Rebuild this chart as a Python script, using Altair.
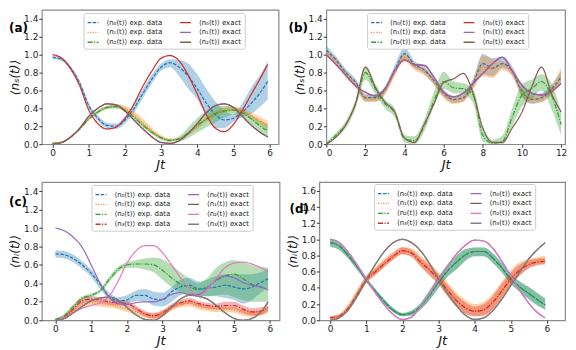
import altair as alt
import pandas as pd

FONT = "DejaVu Sans"
BLUE, ORANGE, GREEN, RED = "#1f77b4", "#ff7f0e", "#2ca02c", "#d62728"
PURPLE, BROWN, PINK, GRAY = "#9467bd", "#8c564b", "#e377c2", "#7f7f7f"
DASHED, DOTTED, DASHDOT, SOLID = [3.5, 1.5], [1, 1.6], [5, 1.5, 1.2, 1.5], [1, 0]

# ---------------- time grids ----------------
T6 = [0.0, 0.25, 0.5, 0.75, 1.0, 1.25, 1.5, 1.75, 2.0, 2.25, 2.5, 2.75, 3.0,
      3.25, 3.5, 3.75, 4.0, 4.25, 4.5, 4.75, 5.0, 5.25, 5.5, 5.75, 5.95]
T12 = [0.0, 0.5, 1.0, 1.5, 2.0, 2.5, 3.0, 3.5, 4.0, 4.5, 5.0, 5.5, 6.0,
       6.5, 7.0, 7.5, 8.0, 8.5, 9.0, 9.5, 10.0, 10.5, 11.0, 11.5, 12.0]

# ---------------- panel (a) ----------------
a_exp0 = [0.97,0.95,0.85,0.68,0.43,0.29,0.21,0.20,0.27,0.40,0.57,0.73,0.86,0.91,0.86,0.76,0.62,0.46,0.33,0.27,0.29,0.36,0.46,0.58,0.70]
a_lo0 = [0.95,0.93,0.83,0.65,0.40,0.26,0.18,0.17,0.23,0.35,0.52,0.68,0.82,0.86,0.76,0.62,0.50,0.32,0.18,0.18,0.25,0.30,0.34,0.42,0.50]
a_hi0 = [0.99,0.97,0.87,0.71,0.46,0.32,0.24,0.23,0.31,0.45,0.62,0.78,0.90,0.95,0.94,0.90,0.78,0.62,0.48,0.38,0.33,0.46,0.64,0.78,0.93]
a_exp1 = [0.01,0.02,0.08,0.17,0.28,0.36,0.41,0.43,0.40,0.33,0.24,0.15,0.08,0.05,0.06,0.12,0.20,0.28,0.34,0.38,0.39,0.37,0.32,0.26,0.21]
a_lo1 = [0.00,0.01,0.07,0.16,0.27,0.35,0.40,0.41,0.37,0.30,0.21,0.13,0.06,0.04,0.05,0.10,0.17,0.25,0.31,0.35,0.37,0.34,0.28,0.21,0.16]
a_hi1 = [0.02,0.03,0.09,0.18,0.29,0.37,0.42,0.45,0.43,0.37,0.28,0.18,0.10,0.06,0.07,0.14,0.23,0.31,0.37,0.41,0.42,0.40,0.35,0.30,0.26]
a_exp2 = [0.01,0.02,0.08,0.17,0.28,0.36,0.41,0.42,0.38,0.30,0.21,0.13,0.07,0.04,0.06,0.13,0.21,0.28,0.34,0.37,0.38,0.35,0.28,0.20,0.15]
a_lo2 = [0.00,0.01,0.07,0.16,0.27,0.34,0.39,0.40,0.36,0.28,0.19,0.11,0.05,0.03,0.03,0.07,0.13,0.19,0.24,0.30,0.33,0.31,0.22,0.13,0.08]
a_hi2 = [0.02,0.03,0.09,0.18,0.29,0.38,0.43,0.44,0.40,0.32,0.23,0.15,0.09,0.06,0.09,0.19,0.29,0.37,0.42,0.43,0.42,0.38,0.32,0.26,0.22]
a_ex0 = [1.00,0.96,0.84,0.65,0.38,0.23,0.17,0.19,0.29,0.45,0.65,0.82,0.96,0.99,0.93,0.77,0.56,0.33,0.18,0.14,0.22,0.38,0.56,0.74,0.89]
a_ex1 = [0.00,0.02,0.08,0.18,0.31,0.40,0.45,0.44,0.37,0.27,0.17,0.08,0.02,0.01,0.04,0.12,0.23,0.35,0.43,0.45,0.41,0.31,0.21,0.13,0.08]
a_ex2 = [0.00,0.02,0.08,0.18,0.31,0.40,0.45,0.44,0.37,0.27,0.17,0.08,0.02,0.01,0.04,0.12,0.23,0.35,0.43,0.45,0.41,0.31,0.21,0.13,0.08]

# ---------------- panel (b) ----------------
b_exp0 = [1.05,0.94,0.80,0.69,0.52,0.52,0.61,0.83,1.01,0.89,0.83,0.71,0.57,0.50,0.52,0.68,0.90,0.85,0.90,0.82,0.59,0.50,0.52,0.61,0.75]
b_lo0 = [1.01,0.90,0.76,0.65,0.48,0.48,0.57,0.78,0.95,0.85,0.79,0.67,0.53,0.46,0.48,0.63,0.78,0.76,0.85,0.77,0.53,0.45,0.47,0.56,0.70]
b_hi0 = [1.10,0.98,0.84,0.73,0.56,0.56,0.65,0.88,1.08,0.93,0.87,0.75,0.61,0.54,0.56,0.73,1.01,0.96,0.98,0.87,0.66,0.56,0.57,0.66,0.82]
b_exp1 = [1.02,0.92,0.78,0.67,0.51,0.51,0.59,0.80,0.97,0.87,0.81,0.70,0.55,0.49,0.51,0.66,0.86,0.84,0.88,0.80,0.58,0.50,0.51,0.60,0.74]
b_lo1 = [0.98,0.88,0.74,0.63,0.47,0.47,0.55,0.76,0.92,0.83,0.77,0.66,0.51,0.45,0.47,0.61,0.76,0.74,0.83,0.76,0.53,0.46,0.47,0.55,0.68]
b_hi1 = [1.06,0.96,0.82,0.71,0.55,0.55,0.63,0.84,1.03,0.91,0.85,0.74,0.59,0.53,0.55,0.71,0.99,0.95,0.93,0.84,0.63,0.54,0.55,0.65,0.86]
b_exp2 = [0.00,0.10,0.22,0.45,0.80,0.62,0.45,0.35,0.06,0.04,0.20,0.48,0.70,0.63,0.62,0.55,0.10,0.01,0.03,0.30,0.55,0.62,0.70,0.55,0.22]
b_lo2 = [0.00,0.07,0.18,0.40,0.72,0.56,0.40,0.30,0.02,0.00,0.14,0.42,0.62,0.57,0.56,0.46,0.03,0.00,0.00,0.20,0.42,0.50,0.60,0.40,0.10]
b_hi2 = [0.02,0.13,0.26,0.50,0.87,0.68,0.50,0.40,0.10,0.09,0.27,0.58,0.81,0.70,0.68,0.62,0.20,0.05,0.10,0.40,0.67,0.72,0.78,0.68,0.36]
b_ex0 = [1.00,0.89,0.77,0.65,0.58,0.54,0.62,0.82,0.94,0.89,0.88,0.75,0.58,0.53,0.57,0.68,0.79,0.90,0.97,0.82,0.66,0.57,0.55,0.59,0.68]
b_ex1 = [1.00,0.89,0.77,0.65,0.58,0.54,0.62,0.82,0.94,0.89,0.88,0.75,0.58,0.53,0.57,0.68,0.79,0.90,0.97,0.82,0.66,0.57,0.55,0.59,0.68]
b_ex2 = [0.00,0.08,0.22,0.46,0.86,0.64,0.47,0.36,0.07,0.02,0.22,0.45,0.69,0.73,0.79,0.57,0.18,0.02,0.02,0.18,0.36,0.64,0.86,0.57,0.36]

# ---------------- panel (c) ----------------
c_exp0 = [0.72,0.71,0.67,0.60,0.51,0.39,0.26,0.21,0.22,0.27,0.27,0.23,0.22,0.31,0.36,0.38,0.34,0.35,0.36,0.38,0.36,0.34,0.36,0.41,0.45]
c_lo0 = [0.68,0.67,0.63,0.56,0.47,0.34,0.23,0.18,0.18,0.21,0.21,0.16,0.15,0.20,0.27,0.29,0.26,0.26,0.26,0.24,0.22,0.18,0.22,0.30,0.35]
c_hi0 = [0.76,0.75,0.71,0.64,0.55,0.42,0.30,0.25,0.27,0.32,0.34,0.31,0.30,0.36,0.44,0.46,0.42,0.44,0.48,0.50,0.50,0.50,0.50,0.52,0.56]
c_exp1 = [0.00,0.03,0.10,0.17,0.19,0.18,0.17,0.15,0.12,0.09,0.06,0.04,0.07,0.13,0.17,0.18,0.15,0.13,0.12,0.12,0.11,0.08,0.07,0.08,0.11]
c_lo1 = [0.00,0.01,0.07,0.14,0.16,0.15,0.14,0.12,0.09,0.06,0.03,0.01,0.04,0.10,0.14,0.15,0.12,0.10,0.09,0.09,0.08,0.05,0.04,0.05,0.08]
c_hi1 = [0.01,0.05,0.13,0.20,0.22,0.21,0.20,0.18,0.15,0.12,0.09,0.07,0.10,0.16,0.20,0.21,0.18,0.16,0.15,0.15,0.14,0.11,0.10,0.11,0.14]
c_exp2 = [0.01,0.05,0.15,0.24,0.27,0.32,0.44,0.55,0.60,0.61,0.61,0.60,0.54,0.46,0.39,0.36,0.33,0.36,0.43,0.48,0.50,0.45,0.39,0.36,0.33]
c_lo2 = [0.00,0.03,0.13,0.22,0.25,0.30,0.41,0.52,0.57,0.57,0.55,0.52,0.44,0.36,0.30,0.28,0.27,0.26,0.27,0.28,0.25,0.22,0.20,0.20,0.20]
c_hi2 = [0.02,0.07,0.17,0.26,0.29,0.34,0.47,0.58,0.63,0.65,0.67,0.68,0.66,0.60,0.52,0.45,0.40,0.46,0.57,0.63,0.65,0.63,0.60,0.58,0.57]
c_exp3 = [0.00,0.03,0.12,0.21,0.23,0.22,0.20,0.19,0.18,0.13,0.07,0.05,0.08,0.15,0.19,0.21,0.18,0.16,0.15,0.16,0.16,0.12,0.09,0.10,0.14]
c_lo3 = [0.00,0.01,0.09,0.18,0.20,0.19,0.17,0.16,0.15,0.10,0.04,0.02,0.05,0.12,0.16,0.18,0.15,0.13,0.12,0.12,0.12,0.08,0.05,0.06,0.10]
c_hi3 = [0.01,0.05,0.15,0.24,0.26,0.25,0.23,0.22,0.21,0.16,0.10,0.08,0.11,0.18,0.22,0.24,0.21,0.19,0.18,0.20,0.20,0.16,0.13,0.14,0.18]
c_ex0 = [1.00,0.97,0.90,0.79,0.60,0.40,0.25,0.18,0.17,0.19,0.20,0.20,0.23,0.28,0.30,0.28,0.28,0.35,0.44,0.48,0.46,0.41,0.38,0.36,0.33]
c_ex1 = [0.00,0.02,0.08,0.15,0.21,0.24,0.25,0.22,0.14,0.06,0.01,0.00,0.05,0.14,0.23,0.27,0.26,0.23,0.16,0.08,0.02,0.00,0.02,0.09,0.20]
c_ex2 = [0.00,0.03,0.08,0.13,0.16,0.19,0.26,0.42,0.62,0.75,0.81,0.81,0.73,0.60,0.46,0.34,0.26,0.33,0.46,0.57,0.62,0.63,0.61,0.57,0.53]
c_ex3 = [0.00,0.02,0.08,0.15,0.21,0.24,0.25,0.22,0.14,0.06,0.01,0.00,0.05,0.14,0.23,0.27,0.26,0.23,0.16,0.08,0.02,0.00,0.02,0.09,0.20]

# ---------------- panel (d) ----------------
d_exp0 = [0.96,0.92,0.80,0.66,0.50,0.36,0.23,0.12,0.07,0.09,0.17,0.31,0.47,0.61,0.72,0.81,0.85,0.85,0.77,0.65,0.51,0.41,0.33,0.25,0.19]
d_lo0 = [0.91,0.87,0.76,0.62,0.47,0.33,0.20,0.10,0.05,0.06,0.13,0.25,0.40,0.54,0.63,0.74,0.79,0.79,0.71,0.59,0.45,0.35,0.26,0.18,0.13]
d_hi0 = [1.01,0.97,0.85,0.70,0.53,0.39,0.26,0.15,0.09,0.12,0.21,0.37,0.54,0.69,0.80,0.88,0.90,0.90,0.83,0.71,0.57,0.48,0.41,0.33,0.27]
d_exp1 = [0.03,0.05,0.16,0.33,0.51,0.61,0.71,0.80,0.86,0.84,0.73,0.63,0.52,0.38,0.25,0.16,0.12,0.14,0.23,0.37,0.52,0.63,0.70,0.74,0.75]
d_lo1 = [0.01,0.03,0.12,0.28,0.46,0.56,0.66,0.75,0.81,0.78,0.66,0.55,0.44,0.29,0.16,0.08,0.05,0.06,0.14,0.28,0.44,0.56,0.65,0.69,0.70]
d_hi1 = [0.05,0.08,0.20,0.38,0.56,0.66,0.76,0.85,0.91,0.89,0.80,0.71,0.60,0.47,0.34,0.25,0.20,0.23,0.33,0.48,0.62,0.72,0.76,0.78,0.80]
d_exp2 = [0.96,0.92,0.80,0.66,0.50,0.36,0.23,0.12,0.07,0.09,0.17,0.31,0.47,0.61,0.72,0.81,0.85,0.85,0.77,0.65,0.51,0.41,0.33,0.25,0.19]
d_lo2 = [0.91,0.87,0.76,0.62,0.47,0.33,0.20,0.10,0.05,0.06,0.13,0.25,0.40,0.54,0.63,0.74,0.79,0.79,0.71,0.59,0.45,0.35,0.26,0.18,0.13]
d_hi2 = [1.01,0.97,0.85,0.70,0.53,0.39,0.26,0.15,0.09,0.12,0.21,0.37,0.54,0.69,0.80,0.88,0.90,0.90,0.83,0.71,0.57,0.48,0.41,0.33,0.27]
d_exp3 = [0.03,0.05,0.15,0.32,0.50,0.60,0.70,0.79,0.86,0.83,0.72,0.62,0.51,0.37,0.24,0.15,0.11,0.13,0.22,0.36,0.51,0.62,0.69,0.72,0.73]
d_lo3 = [0.01,0.03,0.12,0.28,0.46,0.56,0.66,0.75,0.82,0.79,0.67,0.56,0.45,0.30,0.17,0.08,0.05,0.06,0.14,0.27,0.43,0.55,0.64,0.68,0.69]
d_hi3 = [0.05,0.07,0.18,0.36,0.54,0.64,0.74,0.83,0.90,0.87,0.77,0.68,0.57,0.44,0.31,0.22,0.17,0.20,0.30,0.45,0.59,0.69,0.74,0.76,0.77]
d_ex0 = [1.00,0.96,0.84,0.68,0.51,0.34,0.19,0.07,0.01,0.04,0.17,0.33,0.50,0.67,0.82,0.93,0.99,0.98,0.89,0.73,0.55,0.37,0.21,0.09,0.03]
d_ex1 = [0.00,0.03,0.13,0.30,0.50,0.69,0.85,0.96,1.00,0.96,0.86,0.70,0.51,0.33,0.18,0.06,0.01,0.03,0.12,0.26,0.43,0.60,0.76,0.88,0.96]
d_ex2 = [1.00,0.96,0.84,0.68,0.51,0.34,0.19,0.07,0.01,0.04,0.17,0.33,0.50,0.67,0.82,0.93,0.99,0.98,0.89,0.73,0.55,0.37,0.21,0.09,0.03]
d_ex3 = [0.00,0.03,0.13,0.30,0.50,0.69,0.85,0.96,1.00,0.96,0.86,0.70,0.51,0.33,0.18,0.06,0.01,0.03,0.12,0.26,0.43,0.60,0.76,0.88,0.96]

SUB = ["\u2080", "\u2081", "\u2082", "\u2083"]


def lab_exp(i):
    return "\u27e8n" + SUB[i] + "(t)\u27e9 exp. data"


def lab_ex(i):
    return "\u27e8n" + SUB[i] + "(t)\u27e9 exact"


def panel(t, exps, exacts, xdom, xticks, ydom, yticks, ytitle, tag, tag_xy,
          leg_xy, w, h):
    # exps: list of (values, lo, hi, color, dash); exacts: list of (values, color)
    band_rows, exp_rows, ex_rows = [], [], []
    dom_e, rng_e, dsh_e, dom_x, rng_x = [], [], [], [], []
    for i, ((ve, lo, hi, ce, de), (vx, cx)) in enumerate(zip(exps, exacts)):
        le, lx = lab_exp(i), lab_ex(i)
        dom_e.append(le); rng_e.append(ce); dsh_e.append(de)
        dom_x.append(lx); rng_x.append(cx)
        for a, l, u in zip(t, lo, hi):
            band_rows.append({"t": a, "lo": l, "hi": u, "k": le})
        for a, v in zip(t, ve):
            exp_rows.append({"t": a, "v": v, "s": le})
        for a, v in zip(t, vx):
            ex_rows.append({"t": a, "v": v, "s": lx})
    # legend fills column by column: exp. data first column, exact second
    dom = dom_e + dom_x
    rng = rng_e + rng_x
    dsh = dsh_e + [SOLID] * len(dom_x)

    def X():
        return alt.X("t:Q", title="Jt",
                     scale=alt.Scale(domain=xdom, nice=False, zero=False),
                     axis=alt.Axis(values=xticks, format="d"))

    def Y(f):
        return alt.Y(f + ":Q", title=ytitle,
                     scale=alt.Scale(domain=ydom, nice=False, zero=False),
                     axis=alt.Axis(values=yticks, format=".1f"))

    leg = alt.Legend(orient="none", legendX=leg_xy[0], legendY=leg_xy[1],
                     columns=2, title=None, symbolType="stroke",
                     symbolSize=121, symbolStrokeWidth=1.3,
                     labelFont=FONT, labelFontSize=7, labelColor="#222222",
                     labelOffset=7, rowPadding=-1, columnPadding=14,
                     padding=3, fillColor="white", strokeColor="#cccccc",
                     cornerRadius=2, labelLimit=300)
    stroke = alt.Stroke("s:N", scale=alt.Scale(domain=dom, range=rng), legend=leg)
    sdash = alt.StrokeDash("s:N", scale=alt.Scale(domain=dom, range=dsh), legend=leg)

    bands = alt.Chart(pd.DataFrame(band_rows)).mark_area(
        clip=True, opacity=0.35, interpolate="monotone").encode(
        x=X(), y=Y("lo"), y2=alt.Y2("hi:Q"),
        fill=alt.Fill("k:N", scale=alt.Scale(domain=dom_e, range=rng_e), legend=None))
    exp_l = alt.Chart(pd.DataFrame(exp_rows)).mark_line(
        clip=True, strokeWidth=1.2, interpolate="monotone").encode(
        x=X(), y=Y("v"), stroke=stroke, strokeDash=sdash)
    ex_l = alt.Chart(pd.DataFrame(ex_rows)).mark_line(
        clip=True, strokeWidth=1.2, interpolate="monotone").encode(
        x=X(), y=Y("v"), stroke=stroke, strokeDash=sdash)
    tag_l = alt.Chart(pd.DataFrame({"lab": [tag]})).mark_text(
        align="left", baseline="middle", fontSize=12, fontWeight="bold",
        font=FONT, color="black").encode(
        text="lab:N", x=alt.value(tag_xy[0]), y=alt.value(tag_xy[1]))
    return alt.layer(bands, exp_l, ex_l, tag_l).properties(width=w, height=h)


Y15 = [0.0, 0.2, 0.4, 0.6, 0.8, 1.0, 1.2, 1.4]
Y16 = [0.0, 0.2, 0.4, 0.6, 0.8, 1.0, 1.2, 1.4, 1.6]
X6 = [0, 1, 2, 3, 4, 5, 6]
X12 = [0, 2, 4, 6, 8, 10, 12]
TS = "\u27e8n\u209b(t)\u27e9"
TI = "\u27e8n\u1d62(t)\u27e9"

pa = panel(T6,
           [(a_exp0, a_lo0, a_hi0, BLUE, DASHED),
            (a_exp1, a_lo1, a_hi1, ORANGE, DOTTED),
            (a_exp2, a_lo2, a_hi2, GREEN, DASHDOT)],
           [(a_ex0, RED), (a_ex1, PURPLE), (a_ex2, BROWN)],
           [-0.3, 6.25], X6, [0, 1.5], Y15, TS, "(a)", (-33, 18), (42, 3), 238, 135)
pb = panel(T12,
           [(b_exp0, b_lo0, b_hi0, BLUE, DASHED),
            (b_exp1, b_lo1, b_hi1, ORANGE, DOTTED),
            (b_exp2, b_lo2, b_hi2, GREEN, DASHDOT)],
           [(b_ex0, RED), (b_ex1, PURPLE), (b_ex2, BROWN)],
           [0, 12.2], X12, [0, 1.5], Y15, TS, "(b)", (-38, 18), (41, 3), 240, 135)
pc = panel(T6,
           [(c_exp0, c_lo0, c_hi0, BLUE, DASHED),
            (c_exp1, c_lo1, c_hi1, ORANGE, DOTTED),
            (c_exp2, c_lo2, c_hi2, GREEN, DASHDOT),
            (c_exp3, c_lo3, c_hi3, RED, DASHDOT)],
           [(c_ex0, PURPLE), (c_ex1, BROWN), (c_ex2, PINK), (c_ex3, GRAY)],
           [-0.38, 6.27], X6, [0, 1.5], Y15, TI, "(c)", (-33, 20), (50, 3), 239, 139)
pd_ = panel(T6,
            [(d_exp0, d_lo0, d_hi0, BLUE, DASHED),
             (d_exp1, d_lo1, d_hi1, ORANGE, DOTTED),
             (d_exp2, d_lo2, d_hi2, GREEN, DASHDOT),
             (d_exp3, d_lo3, d_hi3, RED, DASHDOT)],
            [(d_ex0, PURPLE), (d_ex1, BROWN), (d_ex2, PINK), (d_ex3, GRAY)],
            [-0.3, 6.5], X6, [0, 1.71], Y16, TI, "(d)", (-30, 27), (55, 2), 247, 139)

RS = dict(x="independent", y="independent", stroke="independent",
          strokeDash="independent", fill="independent")
RL = dict(stroke="independent", strokeDash="independent", fill="independent")

row1 = alt.hconcat(pa, pb, spacing=48, bounds="flush").resolve_scale(**RS).resolve_legend(**RL)
row2 = alt.hconcat(pc, pd_, spacing=40, bounds="flush").resolve_scale(**RS).resolve_legend(**RL)

chart = alt.vconcat(row1, row2, spacing=9).resolve_scale(**RS).resolve_legend(**RL).properties(
    padding=0, background="white"
).configure(font=FONT).configure_view(
    stroke="#8a8a8a", strokeWidth=1.2
).configure_axis(
    labelFont=FONT, labelFontSize=9, labelColor="#222222", titleFont=FONT,
    titleColor="#111111", titleFontWeight="normal", tickSize=3, tickColor="#333333",
    labelPadding=1, grid=False, domain=False
).configure_axisX(
    titleFontSize=13, titleFontStyle="italic", titlePadding=1
).configure_axisY(
    titleFontSize=12, titleFontStyle="italic", titlePadding=2
)

chart.save("out.html", embed_options={"renderer": "svg", "actions": False})
